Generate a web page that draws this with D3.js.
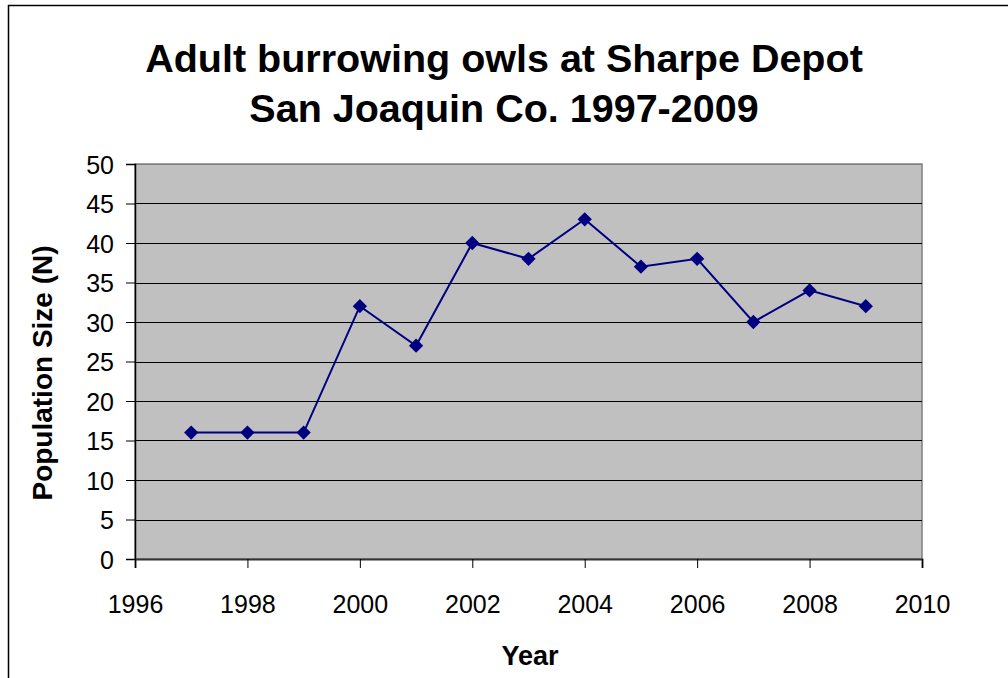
<!DOCTYPE html>
<html><head><meta charset="utf-8">
<script src="https://cdn.jsdelivr.net/npm/d3@7"></script>
<style>body{margin:0;background:#fff}svg{display:block}text{font-family:"Liberation Sans",Arial,sans-serif}</style>
</head><body>
<svg id="c" width="1008" height="678"></svg>
<script>
const years = [1997,1998,1999,2000,2001,2002,2003,2004,2005,2006,2007,2008,2009];
const owls = [16,16,16,32,27,40,38,43,37,38,30,34,32];
const xTicks = [1996,1998,2000,2002,2004,2006,2008,2010];
const yTicks = [0,5,10,15,20,25,30,35,40,45,50];
const titleLines = ["Adult burrowing owls at Sharpe Depot","San Joaquin Co. 1997-2009"];

const svg = d3.select("#c");
const m = {l:135, r:922, t:164, b:559};
const x = d3.scaleLinear().domain([1996,2010]).range([m.l,m.r]);
const y = d3.scaleLinear().domain([0,50]).range([m.b,m.t]);

svg.append("rect").attr("x",8.5).attr("y",5.5).attr("width",1100).attr("height",800)
  .attr("fill","#fff").attr("stroke","#000").attr("stroke-width",1.5);

svg.append("rect").attr("x",m.l).attr("y",m.t).attr("width",m.r-m.l).attr("height",m.b-m.t)
  .attr("fill","#c0c0c0").attr("stroke","#808080").attr("stroke-width",1.5);

svg.append("g").selectAll("line").data(yTicks.filter(d=>d>0)).join("line")
  .attr("x1",m.l).attr("x2",m.r).attr("y1",d=>Math.round(y(d))+0.5).attr("y2",d=>Math.round(y(d))+0.5)
  .attr("stroke",d=>d===50?"#808080":"#000").attr("stroke-width",1);

const yAxis = svg.append("g").attr("transform",`translate(${m.l},0)`)
  .call(d3.axisLeft(y).tickValues(yTicks).tickSize(9).tickPadding(12));
const xAxis = svg.append("g").attr("transform",`translate(0,${m.b})`)
  .call(d3.axisBottom(x).tickValues(xTicks).tickFormat(d3.format("d")).tickSize(9).tickPadding(27));
[yAxis,xAxis].forEach(g=>{
  g.select(".domain").attr("stroke","#000").attr("stroke-width",1.5);
  g.selectAll(".tick line").attr("stroke","#000").attr("stroke-width",1);
  g.selectAll(".tick text").attr("fill","#000").style("font-size","25px");
});
xAxis.select(".domain").attr("stroke","#333").attr("stroke-width",2);
yAxis.selectAll(".tick text").attr("dy","0.36em");

const line = d3.line().x((d,i)=>x(years[i])).y(d=>y(d));
svg.append("path").datum(owls).attr("d",line).attr("fill","none")
  .attr("stroke","#000080").attr("stroke-width",2);
svg.append("g").selectAll("path").data(owls).join("path")
  .attr("transform",(d,i)=>`translate(${x(years[i])},${y(d)})`)
  .attr("d",d3.symbol().type(d3.symbolDiamond2).size(130)).attr("fill","#000080");

svg.append("g").selectAll("text").data(titleLines).join("text")
  .attr("x",504).attr("y",(d,i)=>72+i*50).attr("text-anchor","middle")
  .style("font-size","39.5px").style("font-weight","bold").text(d=>d);

svg.append("text").attr("x",530).attr("y",665).attr("text-anchor","middle")
  .style("font-size","27px").style("font-weight","bold").text("Year");
svg.append("text").attr("transform","translate(52,373) rotate(-90)").attr("text-anchor","middle")
  .style("font-size","28px").style("font-weight","bold").text("Population Size (N)");
</script>
</body></html>
